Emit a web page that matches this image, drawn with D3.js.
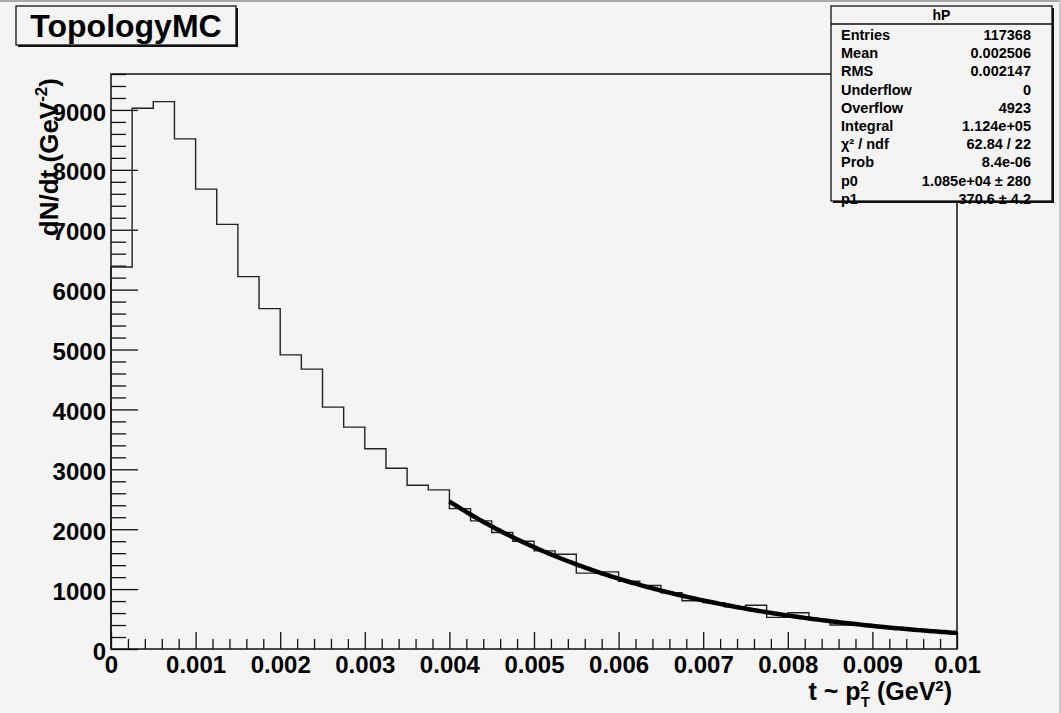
<!DOCTYPE html>
<html>
<head>
<meta charset="utf-8">
<script src="https://cdn.jsdelivr.net/npm/d3@7"></script>
<style>
  body { margin: 0; background: #f4f4f4; }
  text { font-family: "Liberation Sans", Arial, sans-serif; font-weight: bold; fill: #000; }
</style>
</head>
<body>
<script>
// Histograma hP: 40 bins entre 0 y 0.01 GeV^2
const rangoX = [0, 0.01];
const nBins = 40;
const contenidos = [
  6378, 9028, 9139, 8517, 7678, 7089, 6217, 5683, 4911, 4672,
  4038, 3705, 3344, 3017, 2733, 2656, 2344, 2139, 1944, 1800,
  1639, 1583, 1267, 1288, 1130, 1060, 940, 805, 775, 705,
  730, 528, 605, 490, 400, 410, 365, 340, 300, 280
];

// Parámetros del ajuste p0*exp(-p1*t), rango del ajuste
const parametrosFit = [10850, 370.6];
const rangoFit = [0.004, 0.01];

// Marcas de los ejes
const ticksX = [0, 0.001, 0.002, 0.003, 0.004, 0.005, 0.006, 0.007, 0.008, 0.009, 0.01];
const ticksY = [0, 1000, 2000, 3000, 4000, 5000, 6000, 7000, 8000, 9000];
const maxY = 9600;

// Caja de estadísticas
const statsNombres = ["Entries", "Mean", "RMS", "Underflow", "Overflow", "Integral", "χ² / ndf", "Prob", "p0", "p1"];
const statsValores = ["117368", "0.002506", "0.002147", "0", "4923", "1.124e+05", "62.84 / 22", "8.4e-06", "1.085e+04 ± 280", "370.6 ± 4.2"];

const W = 1061, H = 713;
const marco = { left: 111, right: 957, top: 74, bottom: 649 };

const svg = d3.select("body")
  .append("svg")
  .attr("width", W)
  .attr("height", H)
  .style("display", "block");

svg.append("rect").attr("width", W).attr("height", H).attr("fill", "#f4f4f4");
// bordes grises de la ventana
svg.append("rect").attr("x", 0).attr("y", 0).attr("width", W).attr("height", 2).attr("fill", "#a8a8a8");
svg.append("rect").attr("x", W - 2).attr("y", 0).attr("width", 2).attr("height", H).attr("fill", "#c8c8c8");

const x = d3.scaleLinear().domain(rangoX).range([marco.left, marco.right]);
const y = d3.scaleLinear().domain([0, maxY]).range([marco.bottom, marco.top]);

// Ticks menores (hacia adentro, sin texto)
const menoresY = d3.range(0, maxY + 1, 200).filter(v => v % 1000 !== 0);
const menoresX = d3.range(0, 51).map(i => i * 0.0002).filter((v, i) => i % 5 !== 0);

const gMenY = svg.append("g").attr("transform", `translate(${marco.left},0)`)
  .call(d3.axisLeft(y).tickValues(menoresY).tickSizeInner(-15).tickSizeOuter(0).tickFormat(""));
const gMenX = svg.append("g").attr("transform", `translate(0,${marco.bottom})`)
  .call(d3.axisBottom(x).tickValues(menoresX).tickSizeInner(-10).tickSizeOuter(0).tickFormat(""));

const gEjeY = svg.append("g").attr("transform", `translate(${marco.left},0)`)
  .call(d3.axisLeft(y).tickValues(ticksY).tickSizeInner(-27).tickSizeOuter(0).tickPadding(5)
    .tickFormat(d3.format("d")));
const gEjeX = svg.append("g").attr("transform", `translate(0,${marco.bottom})`)
  .call(d3.axisBottom(x).tickValues(ticksX).tickSizeInner(-17).tickSizeOuter(0).tickPadding(7)
    .tickFormat(d => d === 0 ? "0" : String(+d.toFixed(3))));

[gMenY, gMenX, gEjeY, gEjeX].forEach(g => {
  g.select(".domain").remove();
  g.selectAll("line").attr("stroke", "#111").attr("stroke-width", 1.3);
  g.selectAll("text").attr("font-size", 24).attr("font-family", null).attr("fill", "#000");
});
gEjeY.selectAll("text").attr("dy", "0.42em");

// Histograma como línea escalonada
const ancho = (rangoX[1] - rangoX[0]) / nBins;
const puntos = [[rangoX[0], 0]]
  .concat(contenidos.map((v, i) => [rangoX[0] + i * ancho, v]))
  .concat([[rangoX[1], contenidos[nBins - 1]]]);

svg.append("path")
  .datum(puntos)
  .attr("fill", "none")
  .attr("stroke", "#222")
  .attr("stroke-width", 1.4)
  .attr("d", d3.line().x(d => x(d[0])).y(d => y(d[1])).curve(d3.curveStepAfter));

// Curva del ajuste
const muestras = d3.range(0, 201).map(i => rangoFit[0] + i * (rangoFit[1] - rangoFit[0]) / 200)
  .map(t => [t, parametrosFit[0] * Math.exp(-parametrosFit[1] * t)]);

svg.append("path")
  .datum(muestras)
  .attr("fill", "none")
  .attr("stroke", "#000")
  .attr("stroke-width", 4.5)
  .attr("d", d3.line().x(d => x(d[0])).y(d => y(d[1])));

// Marco
svg.append("rect")
  .attr("x", marco.left).attr("y", marco.top)
  .attr("width", marco.right - marco.left).attr("height", marco.bottom - marco.top)
  .attr("fill", "none").attr("stroke", "#111").attr("stroke-width", 1.5);

// Títulos de los ejes
const tituloX = svg.append("text")
  .attr("x", 952).attr("y", 700)
  .attr("text-anchor", "end")
  .attr("font-size", 25);
tituloX.append("tspan").text("t ~ p");
tituloX.append("tspan").attr("font-size", 15).attr("dy", -9).text("2");
tituloX.append("tspan").attr("font-size", 15).attr("dx", -8).attr("dy", 16).text("T");
tituloX.append("tspan").attr("dy", -7).text(" (GeV");
tituloX.append("tspan").attr("font-size", 15).attr("dy", -9).text("2");
tituloX.append("tspan").attr("dy", 9).text(")");

const tituloY = svg.append("text")
  .attr("transform", "translate(58,78) rotate(-90)")
  .attr("text-anchor", "end")
  .attr("font-size", 26);
tituloY.append("tspan").text("dN/dt (GeV");
tituloY.append("tspan").attr("font-size", 17).attr("dy", -11).text("-2");
tituloY.append("tspan").attr("dy", 11).text(")");

// Título del histograma
svg.append("rect").attr("x", 18).attr("y", 8).attr("width", 220).attr("height", 39).attr("fill", "#111");
svg.append("rect").attr("x", 16).attr("y", 6).attr("width", 220).attr("height", 39)
  .attr("fill", "#f4f4f4").attr("stroke", "#111").attr("stroke-width", 1.3);
svg.append("text")
  .attr("x", 126).attr("y", 37)
  .attr("text-anchor", "middle")
  .attr("font-size", 32)
  .text("TopologyMC");

// Caja de estadísticas
const caja = { x: 831, y: 6, w: 221, h: 195 };
svg.append("rect").attr("x", caja.x + 2).attr("y", caja.y + 2).attr("width", caja.w).attr("height", caja.h).attr("fill", "#111");
svg.append("rect").attr("x", caja.x).attr("y", caja.y).attr("width", caja.w).attr("height", caja.h)
  .attr("fill", "#f4f4f4").attr("stroke", "#111").attr("stroke-width", 1.3);
svg.append("line").attr("x1", caja.x).attr("x2", caja.x + caja.w).attr("y1", 24).attr("y2", 24)
  .attr("stroke", "#111").attr("stroke-width", 1.3);
svg.append("text").attr("x", caja.x + caja.w / 2).attr("y", 20)
  .attr("text-anchor", "middle").attr("font-size", 14).text("hP");

const filas = svg.append("g").selectAll("g")
  .data(statsNombres.map((n, i) => ({ nombre: n, valor: statsValores[i] })))
  .join("g")
  .attr("transform", (d, i) => `translate(0, ${40 + i * 18.2})`);

filas.append("text").attr("x", 841).attr("font-size", 14.5).text(d => d.nombre);
filas.append("text").attr("x", 1031).attr("text-anchor", "end").attr("font-size", 14.5).text(d => d.valor);
</script>
</body>
</html>
